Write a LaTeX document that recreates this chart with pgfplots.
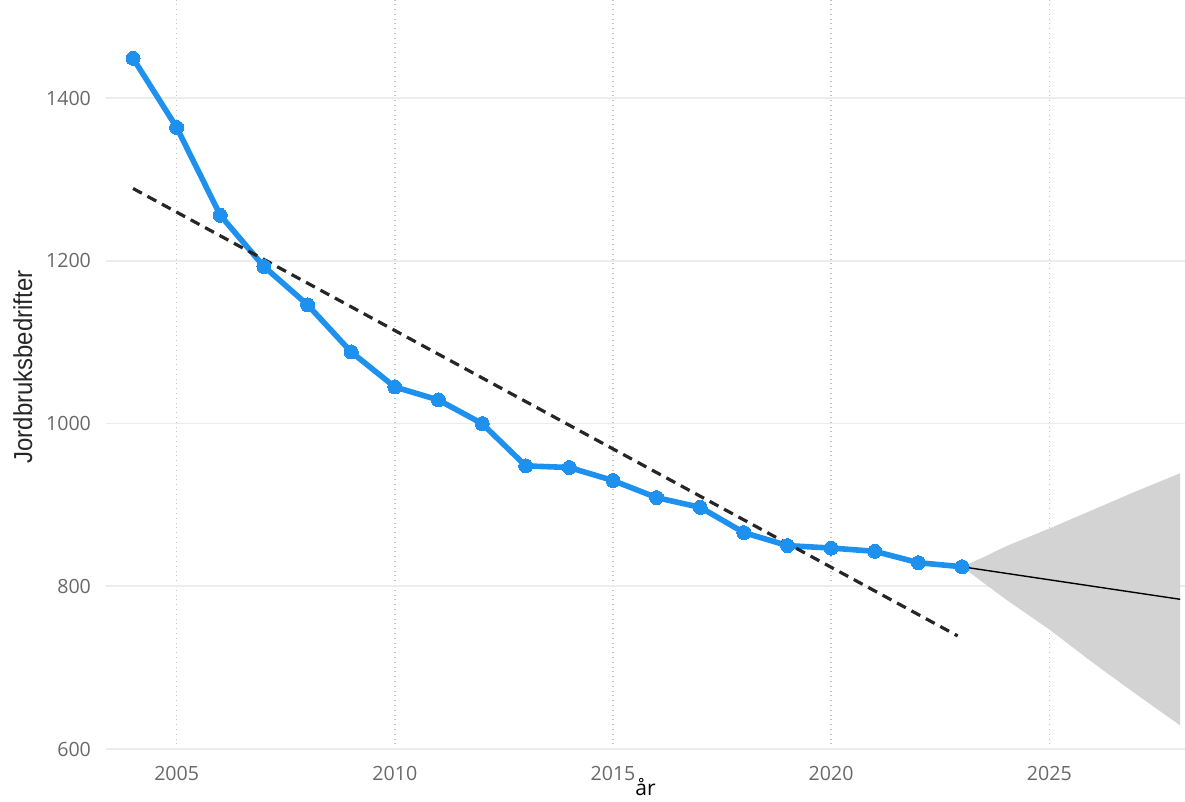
\documentclass[border=0pt]{standalone}
\usepackage{fontspec}
\setmainfont{Open Sans}
\newfontfamily\labelfont[FakeStretch=0.92]{Liberation Sans}
\usepackage{pgfplots}
\pgfplotsset{compat=1.18}
\definecolor{lineblue}{RGB}{30,144,238}
\definecolor{bandgray}{RGB}{211,211,211}
\definecolor{tickgray}{RGB}{105,105,105}
\definecolor{vgrid}{RGB}{195,195,195}
\definecolor{hgrid}{RGB}{236,236,236}
\begin{document}
\begin{tikzpicture}
\begin{axis}[
  scale only axis,
  width=539.5pt, height=374.5pt,
  xmin=2003.38, xmax=2028.11,
  ymin=600, ymax=1520.7,
  axis line style={draw=none},
  tick style={draw=none},
  xtick={2005,2010,2015,2020,2025},
  ytick={600,800,1000,1200,1400},
  /pgf/number format/assume math mode=true,
  /pgf/number format/1000 sep={},
  xticklabel style={font=\fontsize{9.8}{12}\selectfont, text=tickgray, yshift=-5pt},
  yticklabel style={font=\fontsize{9.8}{12}\selectfont, text=tickgray, xshift=-4pt},
  xmajorgrids, ymajorgrids,
  x grid style={vgrid, dotted, line width=0.8pt},
  y grid style={hgrid, line width=0.8pt},
  xlabel={år},
  xlabel style={at={(axis description cs:0.5,0)}, anchor=base, yshift=-23.5pt, font=\fontsize{10.5}{12}\selectfont, text=black},
  ylabel={Jordbruksbedrifter},
  ylabel style={at={(axis description cs:-0.077,0.51)}, anchor=center, rotate=0, font=\labelfont\fontsize{13}{15}\selectfont, text=black!85},
]
% prediction band
\addplot[draw=none, fill=bandgray] coordinates {
  (2023,824) (2023.5,836) (2024,849) (2025,871) (2026,894) (2027,917) (2028,939)
  (2028,629) (2027,667) (2026,706) (2025,747) (2024,784) (2023.5,804) (2023,824)
} -- cycle;
% forecast mean
\addplot[black, line width=0.7pt] coordinates {(2023,824) (2028,784)};
% observed series
\addplot[lineblue, line width=2.8pt, mark=*, mark size=3.5pt, mark options={fill=lineblue, draw=lineblue, line width=0pt}] coordinates {
  (2004,1449) (2005,1364) (2006,1256) (2007,1193) (2008,1146) (2009,1088)
  (2010,1045) (2011,1029) (2012,1000) (2013,948) (2014,946) (2015,930)
  (2016,909) (2017,897) (2018,866) (2019,850) (2020,847) (2021,843)
  (2022,829) (2023,824)
};
% linear trend
\addplot[black!85, line width=1.6pt, dash pattern=on 5pt off 3.2pt] coordinates {(2004,1289) (2022.9,739)};
\end{axis}
\pgfresetboundingbox
\path (-53pt,-26.5pt) rectangle (539.5pt,374.5pt);
\end{tikzpicture}
\end{document}
